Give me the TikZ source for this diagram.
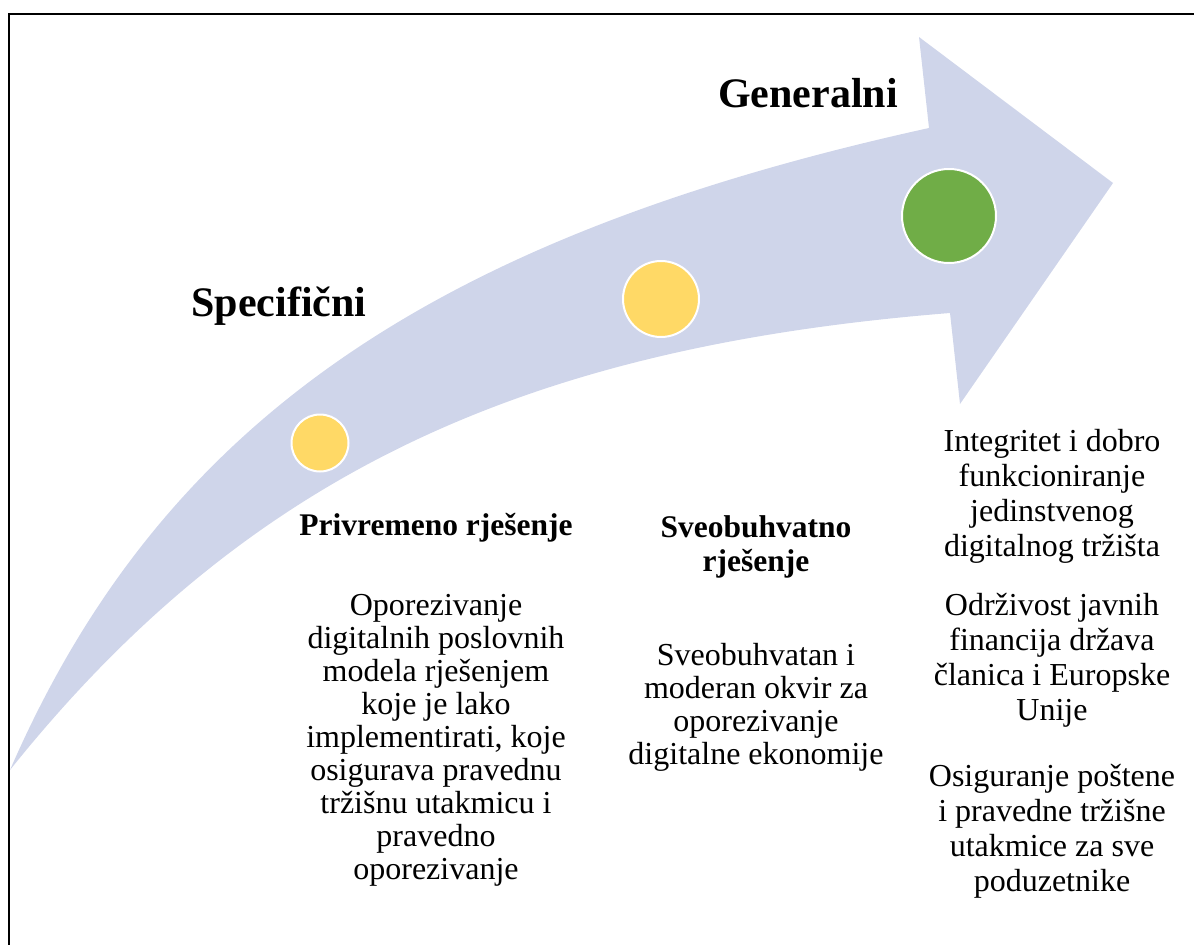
\documentclass[tikz,border=0pt]{standalone}
\usepackage{fontspec}
\setmainfont{Liberation Serif}
\definecolor{arrowfill}{HTML}{CFD5EA}
\definecolor{dotyellow}{HTML}{FFD966}
\definecolor{dotgreen}{HTML}{70AD47}
\begin{document}
\begin{tikzpicture}[x=1pt,y=-1pt,
  dot/.style={circle, draw=white, line width=2pt, inner sep=0pt},
  titletext/.style={font=\bfseries\fontsize{42}{48}\selectfont, inner sep=0pt, anchor=base},
  headtext/.style={font=\bfseries\fontsize{31.5}{34}\selectfont, inner sep=0pt, align=center},
  bodytext/.style={font=\fontsize{32}{33}\selectfont, inner sep=0pt, align=center},
  rbodytext/.style={font=\fontsize{32}{35}\selectfont, inner sep=0pt, align=center}]
\useasboundingbox (0,0) rectangle (1194,945);
% frame (cropped)
\draw[line width=1.5pt] (9,945) -- (9,14) -- (1194,14);
% curved arrow
\fill[arrowfill] (10,770) .. controls (160,425) and (429,238) .. (929,128)
  -- (919,37) -- (1113,183) -- (960,404) -- (950,313)
  .. controls (530,346.6) and (250,470) .. (10,770) -- cycle;
% dots
\node[dot, fill=dotyellow, minimum size=57pt] (d1) at (320,443) {};
\node[dot, fill=dotyellow, minimum size=76pt] (d2) at (661,299) {};
\node[dot, fill=dotgreen, minimum size=94pt] (d3) at (949,216) {};
% titles
\node[titletext] (spec) at (279,316) {Specifični};
\node[titletext] (gen) at (808,107) {Generalni};
% headings
\node[headtext, anchor=base] (h1) at (436,535) {Privremeno rješenje};
\node[headtext] (h2) at (756,547) {Sveobuhvatno\\rješenje};
% bodies
\node[bodytext] (b1) at (436,740) {Oporezivanje\\digitalnih poslovnih\\modela rješenjem\\koje je lako\\implementirati, koje\\osigurava pravednu\\tržišnu utakmicu i\\pravedno\\oporezivanje};
\node[bodytext] (b2) at (756,707) {Sveobuhvatan i\\moderan okvir za\\oporezivanje\\digitalne ekonomije};
\node[rbodytext] (r1) at (1052,496) {Integritet i dobro\\funkcioniranje\\jedinstvenog\\digitalnog tržišta};
\node[rbodytext] (r2) at (1052,660) {Održivost javnih\\financija država\\članica i Europske\\Unije};
\node[rbodytext] (r3) at (1052,831) {Osiguranje poštene\\i pravedne tržišne\\utakmice za sve\\poduzetnike};
\end{tikzpicture}
\end{document}
